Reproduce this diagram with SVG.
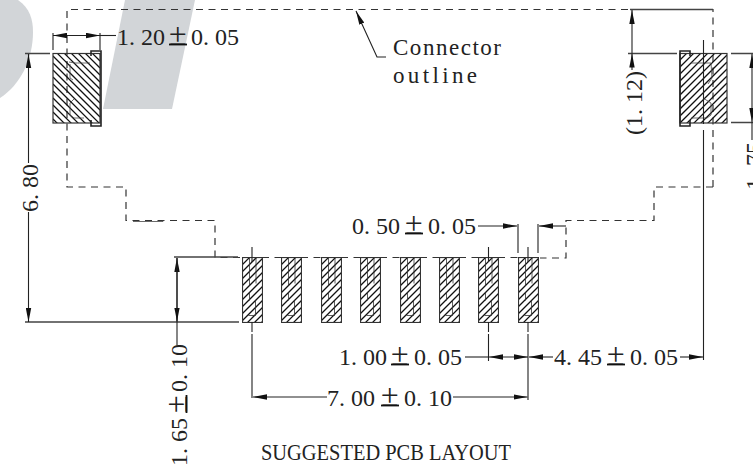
<svg xmlns="http://www.w3.org/2000/svg" width="753" height="465" viewBox="0 0 753 465">
<defs>
<clipPath id="cl"><rect x="53" y="53.5" width="47" height="69.5"/></clipPath>
<clipPath id="cr"><rect x="680" y="53.5" width="47" height="69.5"/></clipPath>
<marker id="a" markerUnits="userSpaceOnUse" markerWidth="14" markerHeight="6" refX="14" refY="3" orient="auto-start-reverse"><path d="M0,0.3L14,3L0,5.7Z" fill="#111"/></marker>
<symbol id="pad" overflow="hidden" width="21" height="66" viewBox="-0.5 -0.5 21 66">
<path d="M0,7l20,-20M0,14l20,-20M0,21l20,-20M0,28l20,-20M0,35l20,-20M0,42l20,-20M0,49l20,-20M0,56l20,-20M0,63l20,-20M0,70l20,-20M0,77l20,-20M0,84l20,-20" fill="none" stroke="#111" stroke-width="1.25"/>
<rect x="0" y="0" width="20" height="65" fill="none" stroke="#333" stroke-width="1.2"/>
<path d="M7,0V28M13.5,0V26M7,43V35M13,43V58M6,58H13" fill="none" stroke="#333" stroke-width="0.8"/>
</symbol>
</defs>
<style>
.t{font-family:"Liberation Serif",serif;font-size:24px;fill:#222}
.pm{font-size:32px}
.m{font-family:"Liberation Serif",serif;font-size:23px;fill:#222}
.d{fill:none;stroke:#333;stroke-width:1.2;stroke-dasharray:7 5.5}
.l{fill:none;stroke:#222;stroke-width:1.1}
.e{fill:none;stroke:#444;stroke-width:1.3}
.i{fill:none;stroke:#444;stroke-width:0.8}
.h{fill:none;stroke:#111;stroke-width:1.25}
.u{stroke:#111;stroke-width:1.8}
</style>
<g id="watermark" fill="#d2d5d8">
<path d="M0,0H18C30,8 33,20 33,32C33,60 20,85 0,98Z"/>
<path d="M125,0H195L172,109H103Z"/>
</g>
<g id="outline"><path class="d" d="M713,187V9.5H67V187H126V220.5H215V257.5H240M713,187H654V220.5H566V258H540M262,257.5H281M301,257.5H321M341,257.5H360M380,257.5H400M420,257.5H439M459,257.5H478M498,257.5H518"/><path class="i" d="M133,221.5H163V220"/></g>
<g id="pad-left">
<path class="h" clip-path="url(#cl)" d="M53,7l47,47M53,14l47,47M53,21l47,47M53,28l47,47M53,35l47,47M53,42l47,47M53,49l47,47M53,56l47,47M53,63l47,47M53,70l47,47M53,77l47,47M53,84l47,47M53,91l47,47M53,98l47,47M53,105l47,47M53,112l47,47M53,119l47,47"/>
<rect x="53" y="53.5" width="47" height="69.5" fill="none" stroke="#333" stroke-width="1.2"/><path d="M91,56V51H101V56M101,51V126H91V120" fill="none" stroke="#222" stroke-width="1.6"/><path class="i" d="M69,62L75,63H90M70,64V78L73,80M74,99L70,103V115L74,118H84"/></g>
<g id="pad-right">
<path class="h" clip-path="url(#cr)" d="M680,60l47,-47M680,67l47,-47M680,74l47,-47M680,81l47,-47M680,88l47,-47M680,95l47,-47M680,102l47,-47M680,109l47,-47M680,116l47,-47M680,123l47,-47M680,130l47,-47M680,137l47,-47M680,144l47,-47M680,151l47,-47M680,158l47,-47M680,165l47,-47M680,172l47,-47"/>
<rect x="680" y="53.5" width="47" height="69.5" fill="none" stroke="#333" stroke-width="1.2"/><path d="M690,56V51H680V126H690V120" fill="none" stroke="#222" stroke-width="1.6"/><path class="i" d="M691,63H711M711,63L712,78L708,84M703,98L711,103V115L707,118H691"/></g>
<g id="pads">
<use href="#pad" x="242" y="257"/><use href="#pad" x="281" y="257"/><use href="#pad" x="321" y="257"/><use href="#pad" x="360" y="257"/><use href="#pad" x="400" y="257"/><use href="#pad" x="439" y="257"/><use href="#pad" x="478" y="257"/><use href="#pad" x="518" y="257"/>
</g>
<g id="connectors">
<path class="e" d="M25,53.5H50M25,322H239M174,257H238M628,53.5H677M731,53.5H753M731,122.5H753M630,9.5H713"/>
<path class="l" d="M53,33V50M100,33V50M518,224V253M538,224V253M703.5,40V124M703.5,130V360"/>
<path class="l" d="M252,247V262M252,322V332M252,334V398M488.5,247V262M488.5,322V332M488.5,334V361M528,247V262M528,322V332M528,334V400"/>
<path class="l" d="M100,35.5H53" marker-start="url(#a)" marker-end="url(#a)"/>
<path class="l" d="M100,35.5H116"/>
<path class="l" d="M28.5,163V54" marker-end="url(#a)"/><path class="l" d="M28.5,212V322" marker-end="url(#a)"/>
<path class="l" d="M177,258V345" marker-start="url(#a)"/><path class="l" d="M177,258V321.5" marker-end="url(#a)"/>
<path class="l" d="M632,70V53.5" marker-end="url(#a)"/><path class="l" d="M632,53.5V10" marker-end="url(#a)"/>
<path class="l" d="M752,54V122" marker-start="url(#a)" marker-end="url(#a)"/><path class="l" d="M752,122V140"/>
<path class="l" d="M478,226H517" marker-end="url(#a)"/><path class="l" d="M566,226H539" marker-end="url(#a)"/>
<path class="l" d="M465,357H488.5"/><path class="l" d="M528,357H489" marker-start="url(#a)" marker-end="url(#a)"/>
<path class="l" d="M553,357H529" marker-end="url(#a)"/><path class="l" d="M680,357H703" marker-end="url(#a)"/>
<path class="l" d="M327,397H253" marker-end="url(#a)"/><path class="l" d="M453,397H527.5" marker-end="url(#a)"/>
<path class="l" d="M386,57H377L356,11" marker-end="url(#a)"/>
</g>
<g id="labels">
<text class="t" x="117" y="45">1. 20<tspan class="pm" x="169">±</tspan><tspan x="191">0. 05</tspan></text><path class="u" d="M169,44.5H187"/>
<text class="t" x="352" y="234">0. 50<tspan class="pm" x="405">±</tspan><tspan x="428">0. 05</tspan></text><path class="u" d="M405,233.5H423"/>
<text class="t" x="339" y="365">1. 00<tspan class="pm" x="391">±</tspan><tspan x="414">0. 05</tspan></text><path class="u" d="M391,364.5H409"/>
<text class="t" x="554" y="365">4. 45<tspan class="pm" x="607">±</tspan><tspan x="630">0. 05</tspan></text><path class="u" d="M607,364.5H625"/>
<text class="t" x="327" y="406">7. 00<tspan class="pm" x="381">±</tspan><tspan x="404">0. 10</tspan></text><path class="u" d="M381,405.5H399"/>
<text class="t" transform="translate(38,212) rotate(-90)">6. 80</text>
<text class="t" transform="translate(187,466) rotate(-90)">1. 65<tspan class="pm" x="53">±</tspan><tspan x="74">0. 10</tspan></text><path class="u" d="M186.5,413V395"/>
<text class="t" transform="translate(642,135) rotate(-90)">(1. 12)</text>
<text class="t" transform="translate(762,190) rotate(-90)">1. 75</text>
<text class="m" x="393" y="55" textLength="108">Connector</text>
<text class="m" x="393" y="83" textLength="84">outline</text>
<text class="m" x="261" y="460" textLength="250" lengthAdjust="spacingAndGlyphs">SUGGESTED PCB LAYOUT</text>
</g>
</svg>
